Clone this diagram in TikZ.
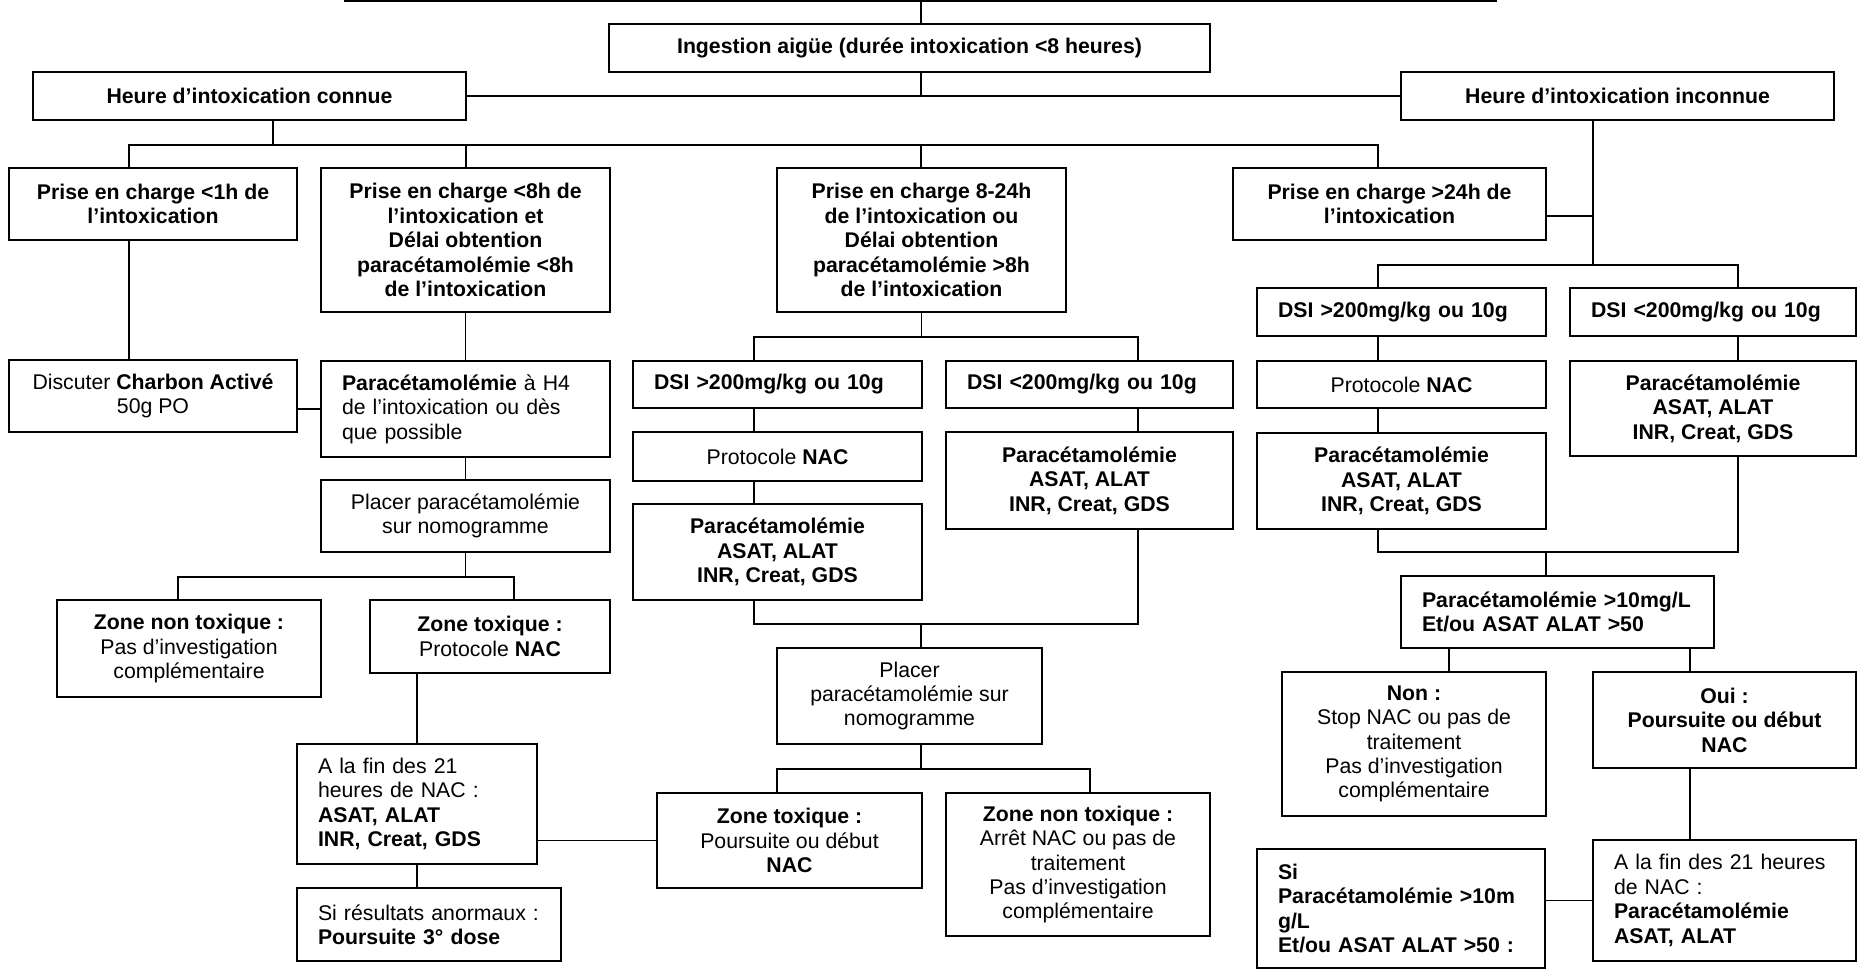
\documentclass[tikz,border=0pt]{standalone}
\usepackage{fontspec}
\setmainfont{Liberation Sans}
\newcommand{\bF}{\fontsize{12.1}{13.9}\selectfont}
\tikzset{
  bx/.style n args={2}{draw, inner sep=0pt, align=center, font=\bF,
    minimum width=#1*0.02cm, minimum height=#2*0.02cm},
  lbx/.style n args={2}{bx={#1}{#2}, align=left, text width=(#1-42)*0.02cm},
  gras/.style={font=\bF\bfseries},
}

\begin{document}
\begin{tikzpicture}[x=0.02cm, y=-0.02cm, line width=1.1pt]
\useasboundingbox (0,0) rectangle (1858,970);
% haut de page (suite du schema precedent)
\coordinate (haut) at (921,1);
\draw (344,1) -- (1497,1);

\node[bx={601}{48},gras] (ingest) at (909.5,48) {Ingestion aigüe (durée intoxication <8 heures)};
\node[bx={433}{48},gras] (connue) at (249.5,96) {Heure d'intoxication connue};
\node[bx={433}{48},gras] (inconnue) at (1617.5,96) {Heure d'intoxication inconnue};

\node[bx={288}{72},gras] (p1h) at (153,204) {Prise en charge <1h de\\l'intoxication};
\node[bx={289}{144},gras] (p8h) at (465.5,240) {Prise en charge <8h de\\l'intoxication et\\Délai obtention\\paracétamolémie <8h\\de l'intoxication};
\node[bx={289}{144},gras] (p824) at (921.5,240) {Prise en charge 8-24h\\de l'intoxication ou\\Délai obtention\\paracétamolémie >8h\\de l'intoxication};
\node[bx={313}{72},gras] (p24) at (1389.5,204) {Prise en charge >24h de\\l'intoxication};

% colonne gauche
\node[bx={288}{72}] (charbon) at (153,396) {Discuter \textbf{Charbon Activé}\\50g PO};
\node[lbx={289}{96}] (h4) at (465.5,409) {\textbf{Paracétamolémie} à H4\\de l'intoxication ou dès\\que possible};
\node[bx={289}{72}] (placerL) at (465.5,516) {Placer paracétamolémie\\sur nomogramme};
\node[bx={264}{97}] (zntL) at (189,648.5) {\textbf{Zone non toxique :}\\Pas d'investigation\\complémentaire};
\node[bx={240}{73}] (ztL) at (490,636.5) {\textbf{Zone toxique :}\\Protocole \textbf{NAC}};
\node[lbx={240}{120}] (finL) at (417,804) {A la fin des 21\\heures de NAC :\\\textbf{ASAT, ALAT}\\\textbf{INR, Creat, GDS}};
\node[lbx={264}{73}] (siL) at (429,924.5) {Si résultats anormaux :\\\textbf{Poursuite 3° dose}};

% colonne milieu
\node[lbx={289}{47},gras] (dsiM1) at (777.5,384.5) {DSI >200mg/kg ou 10g};
\node[lbx={287}{47},gras] (dsiM2) at (1089.5,384.5) {DSI <200mg/kg ou 10g};
\node[bx={289}{49}] (nacM) at (777.5,456.5) {Protocole \textbf{NAC}};
\node[bx={289}{96},gras] (paraM) at (777.5,552) {Paracétamolémie\\ASAT, ALAT\\INR, Creat, GDS};
\node[bx={287}{97},gras] (paraM2) at (1089.5,480.5) {Paracétamolémie\\ASAT, ALAT\\INR, Creat, GDS};
\node[bx={265}{96}] (placerM) at (909.5,696) {Placer\\paracétamolémie sur\\nomogramme};
\node[bx={265}{95}] (ztM) at (789.5,840.5) {\textbf{Zone toxique :}\\Poursuite ou début\\\textbf{NAC}};
\node[bx={264}{143}] (zntM) at (1078,864.5) {\textbf{Zone non toxique :}\\Arrêt NAC ou pas de\\traitement\\Pas d'investigation\\complémentaire};

% colonne droite
\node[lbx={289}{48},gras] (dsiA) at (1401.5,312) {DSI >200mg/kg ou 10g};
\node[lbx={286}{48},gras] (dsiB) at (1713,312) {DSI <200mg/kg ou 10g};
\node[bx={289}{47}] (nacR) at (1401.5,384.5) {Protocole \textbf{NAC}};
\node[bx={289}{96},gras] (paraR) at (1401.5,481) {Paracétamolémie\\ASAT, ALAT\\INR, Creat, GDS};
\node[bx={286}{95},gras] (paraRR) at (1713,408.5) {Paracétamolémie\\ASAT, ALAT\\INR, Creat, GDS};
\node[lbx={313}{72},gras] (seuil) at (1557.5,612) {Paracétamolémie >10mg/L\\Et/ou ASAT ALAT >50};
\node[bx={264}{144}] (non) at (1414,744) {\textbf{Non :}\\Stop NAC ou pas de\\traitement\\Pas d'investigation\\complémentaire};
\node[bx={263}{96},gras] (oui) at (1724.5,720) {Oui :\\Poursuite ou début\\NAC};
\node[lbx={263}{121}] (finR) at (1724.5,900.5) {A la fin des 21 heures\\de NAC :\\\textbf{Paracétamolémie}\\\textbf{ASAT, ALAT}};
\node[lbx={288}{119},gras] (siR) at (1401,908.5) {Si\\Paracétamolémie >10m\\g/L\\Et/ou ASAT ALAT >50 :};

% liaisons du haut
\draw (haut) -- (ingest.north -| haut);
\draw (ingest.south -| haut) -- (connue.east -| haut);
\draw (connue.east) -- (inconnue.west);
\draw (connue.south -| 273,0) -- ++(0,24) coordinate (bus1);
\foreach \n/\x in {p1h/129, p8h/466, p824/921, p24/1378}
  \draw (bus1) -| (\n.north -| \x,0);
\draw (p24.east |- 0,216) -| (inconnue.south -| 1593,0);
\draw (inconnue.south -| 1593,0) -- ++(0,144) coordinate (bus2);
\foreach \n/\x in {dsiA/1378, dsiB/1738}
  \draw (bus2) -| (\n.north -| \x,0);

% liaisons gauche
\draw (p1h.south -| 129,0) -- (charbon.north -| 129,0);
\draw (charbon.east |- h4.west) -- (h4.west);
\draw (p8h.south) -- (h4.north);
\draw (h4.south) -- (placerL.north);
\draw (placerL.south) -- ++(0,24) coordinate (bus4);
\draw (bus4) -| (zntL.north -| 178,0);
\draw (bus4) -| (ztL.north -| 514,0);
\draw (ztL.south -| finL.north) -- (finL.north);
\draw (finL.south) -- (siL.north -| finL.south);
\draw (finL.east |- ztM.west) -- (ztM.west);

% liaisons milieu
\draw (p824.south) -- ++(0,24) coordinate (bus5);
\draw (bus5) -| (dsiM1.north -| 754,0);
\draw (bus5) -| (dsiM2.north -| 1138,0);
\draw (dsiM1.south -| 754,0) -- (nacM.north -| 754,0);
\draw (nacM.south -| 754,0) -- (paraM.north -| 754,0);
\draw (dsiM2.south -| 1138,0) -- (paraM2.north -| 1138,0);
\coordinate (bus6) at (921,624);
\draw (paraM.south -| 754,0) |- (bus6) -- (placerM.north -| bus6);
\draw (paraM2.south -| 1138,0) |- (bus6);
\draw (placerM.south -| 921,0) -- ++(0,24) coordinate (bus7);
\draw (bus7) -| (ztM.north -| 777,0);
\draw (bus7) -| (zntM.north -| 1090,0);

% liaisons droite
\draw (dsiA.south -| 1378,0) -- (nacR.north -| 1378,0);
\draw (nacR.south -| 1378,0) -- (paraR.north -| 1378,0);
\draw (dsiB.south -| 1738,0) -- (paraRR.north -| 1738,0);
\coordinate (bus3) at (1546,552);
\draw (paraR.south -| 1378,0) |- (bus3) -- (seuil.north -| bus3);
\draw (paraRR.south -| 1738,0) |- (bus3);
\draw (seuil.south -| 1449,0) -- (non.north -| 1449,0);
\draw (seuil.south -| 1690,0) -- (oui.north -| 1690,0);
\draw (oui.south -| 1690,0) -- (finR.north -| 1690,0);
\draw (siR.east |- finR.west) -- (finR.west);
\end{tikzpicture}
\end{document}
